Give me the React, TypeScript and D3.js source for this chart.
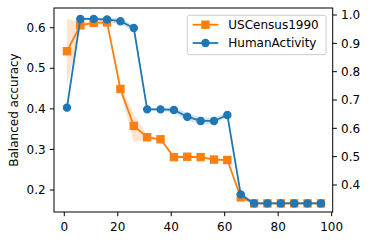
import React, { useEffect, useRef } from 'react';
import * as d3 from 'd3';

// x positions shared by both series
const steps = [1, 6, 11, 16, 21, 26, 31, 36, 41, 46, 51, 56, 61, 66, 71, 76, 81, 86, 91, 96];

// USCensus1990 (left axis)
const census = [0.542, 0.606, 0.612, 0.613, 0.449, 0.358, 0.33, 0.325, 0.281, 0.282, 0.281, 0.275, 0.274, 0.182, 0.167, 0.167, 0.167, 0.167, 0.167, 0.167];
const censusLow = [0.455, 0.598, 0.606, 0.607, 0.44, 0.318, 0.325, 0.321, 0.278, 0.279, 0.278, 0.272, 0.271, 0.179, 0.165, 0.165, 0.165, 0.165, 0.165, 0.165];
const censusHigh = [0.623, 0.612, 0.617, 0.618, 0.458, 0.388, 0.335, 0.329, 0.284, 0.285, 0.284, 0.278, 0.277, 0.185, 0.169, 0.169, 0.169, 0.169, 0.169, 0.169];

// HumanActivity (right axis)
const human = [0.673, 0.986, 0.986, 0.984, 0.978, 0.954, 0.667, 0.667, 0.665, 0.641, 0.626, 0.626, 0.647, 0.367, 0.335, 0.335, 0.335, 0.335, 0.335, 0.335];
const humanLow = [0.655, 0.982, 0.981, 0.975, 0.968, 0.942, 0.662, 0.662, 0.655, 0.628, 0.614, 0.615, 0.64, 0.362, 0.333, 0.333, 0.333, 0.333, 0.333, 0.333];
const humanHigh = [0.68, 0.99, 0.991, 0.992, 0.988, 0.964, 0.672, 0.672, 0.675, 0.654, 0.638, 0.638, 0.654, 0.372, 0.337, 0.337, 0.337, 0.337, 0.337, 0.337];

const xTicks = [0, 20, 40, 60, 80, 100];
const leftTicks = [0.2, 0.3, 0.4, 0.5, 0.6];
const rightTicks = [0.4, 0.5, 0.6, 0.7, 0.8, 0.9, 1.0];

const ORANGE = '#ff7f0e';
const BLUE = '#1f77b4';
const FONT = 'DejaVu Sans, sans-serif';

export default function App() {
  const ref = useRef<SVGSVGElement>(null);

  useEffect(() => {
    const svg = d3.select(ref.current);
    svg.selectAll('*').remove();

    const left = 54, right = 332.7, top = 8, bottom = 212;
    const fs = 12;

    const x = d3.scaleLinear().domain([-3.85, 100.4]).range([left, right]);
    const yL = d3.scaleLinear().domain([0.1458, 0.6486]).range([bottom, top]);
    const yR = d3.scaleLinear().domain([0.3047, 1.0247]).range([bottom, top]);

    const idx = d3.range(steps.length);

    // bands
    const bandL = d3.area<number>().x(i => x(steps[i])).y0(i => yL(censusLow[i])).y1(i => yL(censusHigh[i]));
    const bandR = d3.area<number>().x(i => x(steps[i])).y0(i => yR(humanLow[i])).y1(i => yR(humanHigh[i]));

    svg.append('path').attr('d', bandL(idx)).attr('fill', ORANGE).attr('fill-opacity', 0.2);
    const lineL = d3.line<number>().x(i => x(steps[i])).y(i => yL(census[i]));
    svg.append('path').attr('d', lineL(idx)).attr('fill', 'none').attr('stroke', ORANGE).attr('stroke-width', 1.8);
    const sq = 7.2;
    svg.append('g').selectAll('rect').data(idx).enter().append('rect')
      .attr('x', i => x(steps[i]) - sq / 2)
      .attr('y', i => yL(census[i]) - sq / 2)
      .attr('width', sq).attr('height', sq)
      .attr('fill', ORANGE).attr('stroke', ORANGE).attr('stroke-width', 1.2);

    svg.append('path').attr('d', bandR(idx)).attr('fill', BLUE).attr('fill-opacity', 0.2);
    const lineR = d3.line<number>().x(i => x(steps[i])).y(i => yR(human[i]));
    svg.append('path').attr('d', lineR(idx)).attr('fill', 'none').attr('stroke', BLUE).attr('stroke-width', 1.8);
    svg.append('g').selectAll('circle').data(idx).enter().append('circle')
      .attr('cx', i => x(steps[i]))
      .attr('cy', i => yR(human[i]))
      .attr('r', 3.6)
      .attr('fill', BLUE).attr('stroke', BLUE).attr('stroke-width', 1.2);

    // frame
    svg.append('rect').attr('x', left).attr('y', top).attr('width', right - left).attr('height', bottom - top)
      .attr('fill', 'none').attr('stroke', 'black').attr('stroke-width', 1);

    const tl = 4.2, pad = 4.2;
    const gx = svg.append('g');
    xTicks.forEach(t => {
      gx.append('line').attr('x1', x(t)).attr('x2', x(t)).attr('y1', bottom).attr('y2', bottom + tl).attr('stroke', 'black');
      gx.append('text').attr('x', x(t)).attr('y', bottom + tl + pad + 11).attr('text-anchor', 'middle')
        .style('font-family', FONT).style('font-size', fs).text(t);
    });
    const gl = svg.append('g');
    leftTicks.forEach(t => {
      gl.append('line').attr('x1', left - tl).attr('x2', left).attr('y1', yL(t)).attr('y2', yL(t)).attr('stroke', 'black');
      gl.append('text').attr('x', left - tl - pad).attr('y', yL(t)).attr('dy', '0.35em').attr('text-anchor', 'end')
        .style('font-family', FONT).style('font-size', fs).text(t.toFixed(1));
    });
    const gr = svg.append('g');
    rightTicks.forEach(t => {
      gr.append('line').attr('x1', right).attr('x2', right + tl).attr('y1', yR(t)).attr('y2', yR(t)).attr('stroke', 'black');
      gr.append('text').attr('x', right + tl + pad).attr('y', yR(t)).attr('dy', '0.35em').attr('text-anchor', 'start')
        .style('font-family', FONT).style('font-size', fs).text(t.toFixed(1));
    });

    svg.append('text')
      .attr('transform', `translate(18,${(top + bottom) / 2}) rotate(-90)`)
      .attr('text-anchor', 'middle')
      .style('font-family', FONT).style('font-size', fs)
      .text('Balanced accuracy');

    // legend
    const lg = svg.append('g');
    lg.append('rect').attr('x', 187.3).attr('y', 15.3).attr('width', 138.7).attr('height', 39.4).attr('rx', 2)
      .attr('fill', 'white').attr('fill-opacity', 0.8).attr('stroke', '#cccccc').attr('stroke-width', 1);
    const items = [
      { label: 'USCensus1990', color: ORANGE, shape: 'square' },
      { label: 'HumanActivity', color: BLUE, shape: 'circle' },
    ];
    items.forEach((it, i) => {
      const yy = 24.7 + i * 18.3;
      lg.append('line').attr('x1', 192.7).attr('x2', 218.3).attr('y1', yy).attr('y2', yy)
        .attr('stroke', it.color).attr('stroke-width', 1.8);
      if (it.shape === 'square') {
        lg.append('rect').attr('x', 205.5 - sq / 2).attr('y', yy - sq / 2).attr('width', sq).attr('height', sq)
          .attr('fill', it.color).attr('stroke', it.color).attr('stroke-width', 1.2);
      } else {
        lg.append('circle').attr('cx', 205.5).attr('cy', yy).attr('r', 3.6)
          .attr('fill', it.color).attr('stroke', it.color).attr('stroke-width', 1.2);
      }
      lg.append('text').attr('x', 228.3).attr('y', yy).attr('dy', '0.35em')
        .style('font-family', FONT).style('font-size', fs).text(it.label);
    });
  }, []);

  return (
    <svg ref={ref} width={371} height={243}
      style={{ position: 'absolute', left: 0, top: 0, background: 'white' }} />
  );
}
